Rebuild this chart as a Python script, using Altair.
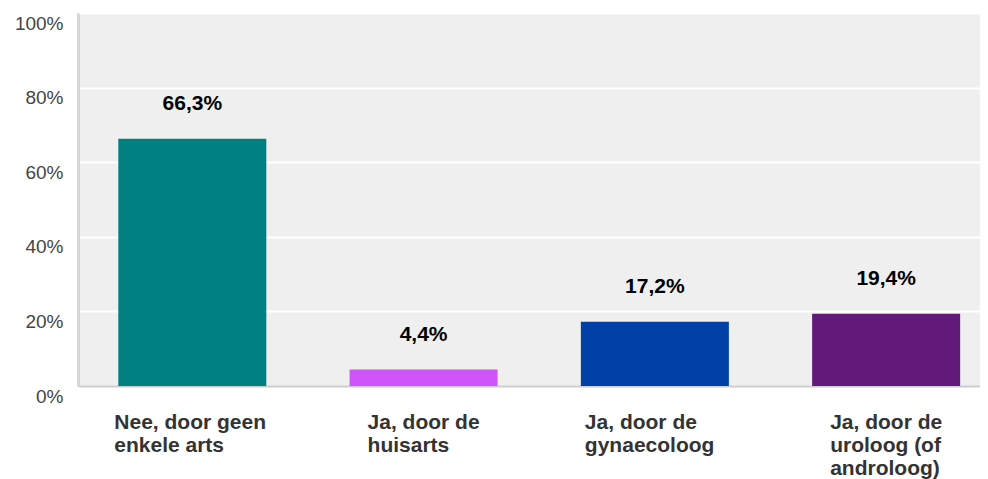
import altair as alt
import pandas as pd

categories = [
    "Nee, door geen|enkele arts",
    "Ja, door de|huisarts",
    "Ja, door de|gynaecoloog",
    "Ja, door de|uroloog (of|androloog)",
]
values = [66.3, 4.4, 17.2, 19.4]
colors = ["#008080", "#D055F8", "#0041A8", "#611A7A"]
y_ticks = [0, 10, 20, 30, 40, 50, 60, 70, 80, 90, 100]

df = pd.DataFrame({"cat": categories, "val": values, "col": colors})

label_offset = {
    "condition": [
        {"test": "datum.value == 'Nee, door geen|enkele arts'", "value": -78},
        {"test": "datum.value == 'Ja, door de|gynaecoloog'", "value": -70},
    ],
    "value": -56,
}

x = alt.X(
    "cat:N",
    sort=categories,
    title=None,
    scale=alt.Scale(paddingInner=0.36, paddingOuter=0.13, align=0.67),
    axis=alt.Axis(
        labelExpr="split(datum.label, '|')",
        labelAngle=0,
        labelAlign="left",
        labelBaseline="top",
        labelFont="Liberation Sans",
        labelFontWeight="bold",
        labelFontSize=21,
        labelColor="#333333",
        labelLineHeight=23,
        labelPadding=25,
        labelOffset=label_offset,
        ticks=False,
        domainColor="#cccccc",
        domainWidth=2,
        grid=False,
        labelLimit=300,
    ),
)

y = alt.Y(
    "val:Q",
    title=None,
    scale=alt.Scale(domain=[0, 100], nice=False),
    axis=alt.Axis(
        values=y_ticks,
        labelExpr="datum.value % 20 == 0 ? datum.value + '%' : ''",
        labelFont="Liberation Sans",
        labelFontSize=19,
        labelColor="#444444",
        labelOffset=10,
        labelPadding=15,
        ticks=False,
        domainColor="#d6d6d6",
        domainWidth=3,
        grid=True,
        gridColor="#ffffff",
        gridWidth=2,
    ),
)

bars = alt.Chart(df).mark_bar().encode(
    x=x,
    y=y,
    color=alt.Color("col:N", scale=None, legend=None),
)

text = (
    alt.Chart(df)
    .transform_calculate(
        lbl="replace(format(datum.val, '.1f'), '.', ',') + '%'"
    )
    .mark_text(
        font="Liberation Sans",
        fontWeight="bold",
        fontSize=21,
        color="#000000",
        baseline="alphabetic",
        align="center",
        dy=-29,
    )
    .encode(x=alt.X("cat:N", sort=categories), y=alt.Y("val:Q"), text="lbl:N")
)

chart = (
    alt.layer(bars, text)
    .properties(
        width=902,
        height=373,
        background="#ffffff",
        autosize=alt.AutoSizeParams(type="none"),
        padding={"left": 70, "top": 5, "right": 0, "bottom": 93},
    )
    .configure_view(fill="#efefef", stroke=None)
)

chart.save("out.html", embed_options={"renderer": "svg", "actions": False})
